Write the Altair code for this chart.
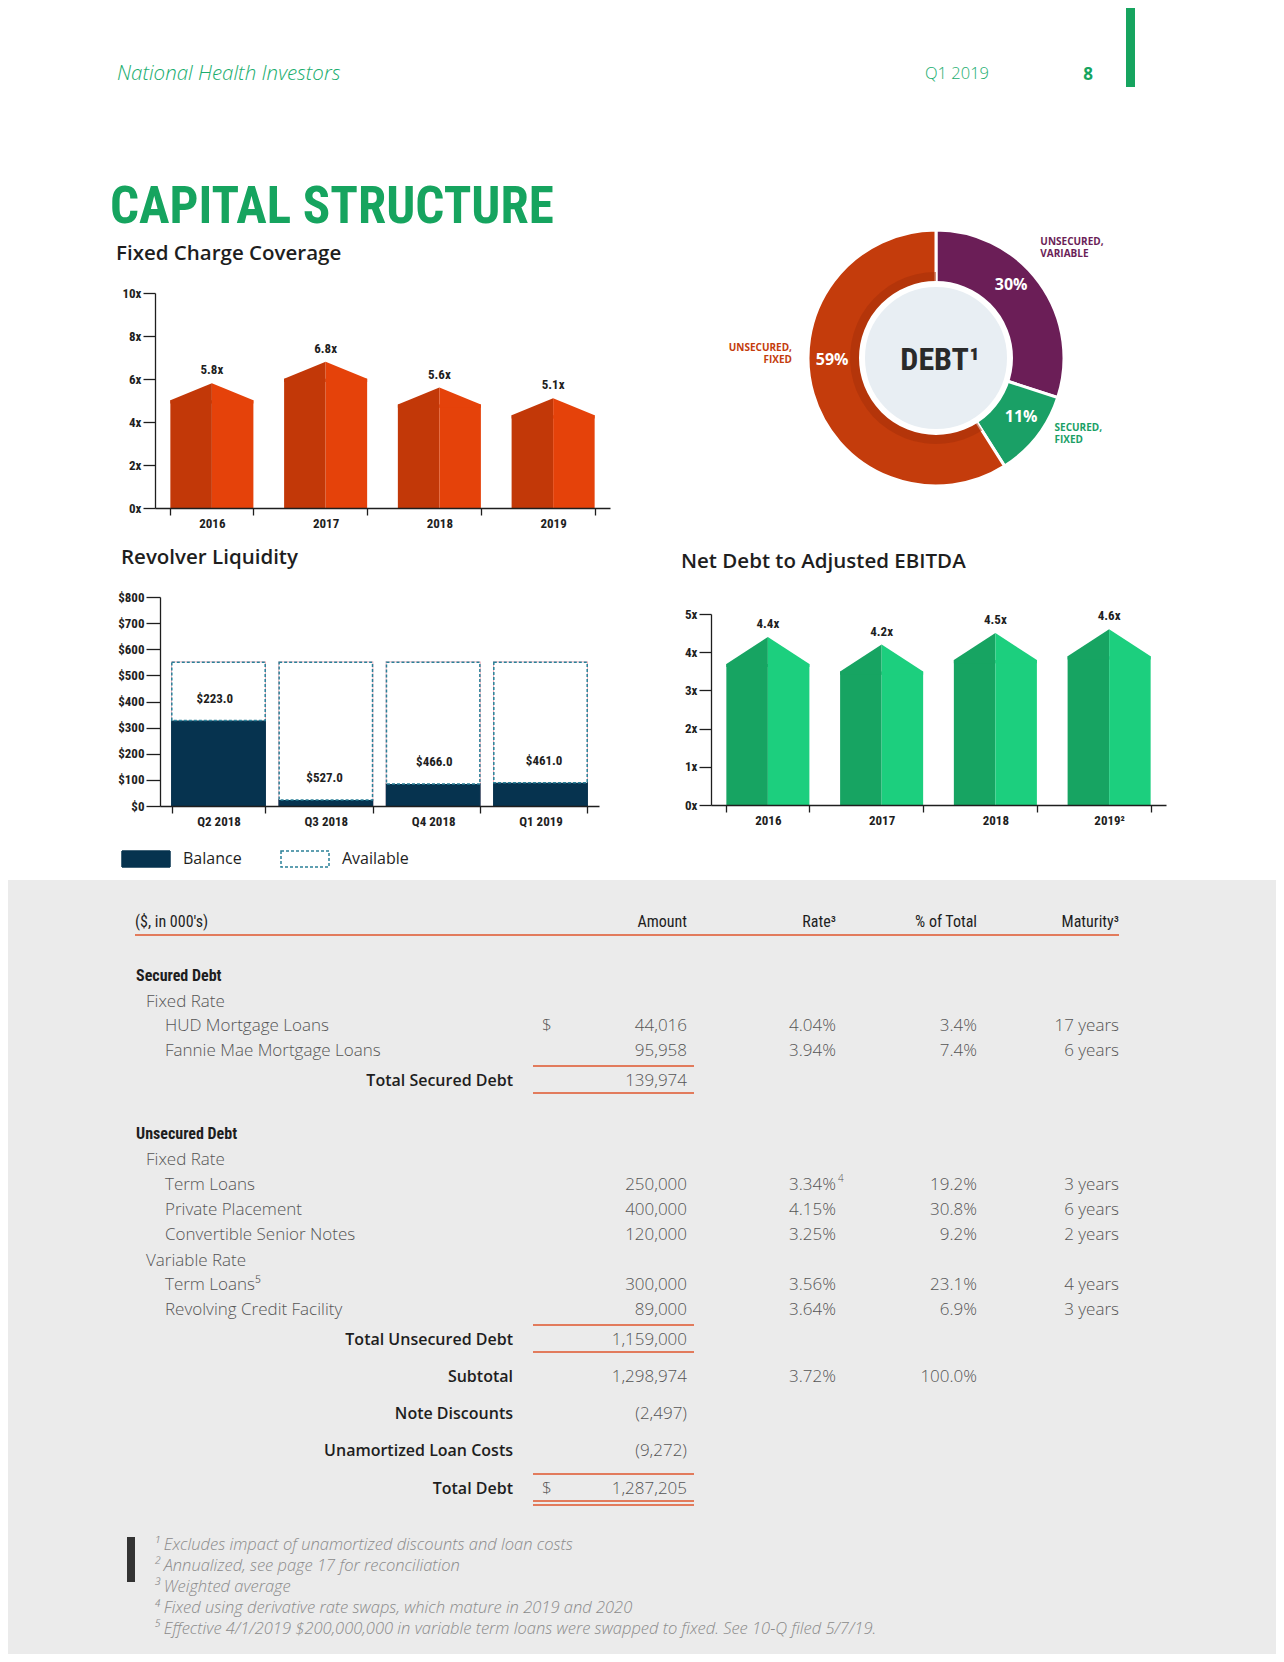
import altair as alt
import pandas as pd

# ---------------- values read from the page ----------------
fcc_years = ["2016", "2017", "2018", "2019"]
fcc_values = [5.8, 6.8, 5.6, 5.1]

nd_years = ["2016", "2017", "2018", "2019²"]
nd_values = [4.4, 4.2, 4.5, 4.6]

rev_quarters = ["Q2 2018", "Q3 2018", "Q4 2018", "Q1 2019"]
rev_balance = [327.0, 23.0, 84.0, 89.0]
rev_available = [223.0, 527.0, 466.0, 461.0]

debt_names = ["UNSECURED,\nVARIABLE", "SECURED,\nFIXED", "UNSECURED,\nFIXED"]
debt_pct = [30, 11, 59]

tbl_labels = ["($, in 000's)", "Secured Debt", "Fixed Rate", "HUD Mortgage Loans",
              "Fannie Mae Mortgage Loans", "Total Secured Debt", "Unsecured Debt",
              "Fixed Rate", "Term Loans", "Private Placement", "Convertible Senior Notes",
              "Variable Rate", "Term Loans⁵", "Revolving Credit Facility",
              "Total Unsecured Debt", "Subtotal", "Note Discounts",
              "Unamortized Loan Costs", "Total Debt"]
tbl_kinds = ["header", "section", "group", "item", "item", "total", "section", "group",
             "item", "item", "item", "group", "item", "item", "total", "summary",
             "summary", "summary", "grand"]
tbl_dollar = ["", "", "", "$", "", "", "", "", "", "", "", "", "", "", "", "", "", "", "$"]
tbl_amount = ["Amount", "", "", "44,016", "95,958", "139,974", "", "", "250,000",
              "400,000", "120,000", "", "300,000", "89,000", "1,159,000", "1,298,974",
              "(2,497)", "(9,272)", "1,287,205"]
tbl_rate = ["Rate³", "", "", "4.04%", "3.94%", "", "", "", "3.34%", "4.15%", "3.25%",
            "", "3.56%", "3.64%", "", "3.72%", "", "", ""]
tbl_rate_note = ["", "", "", "", "", "", "", "", "4", "", "", "", "", "", "", "", "", "", ""]
tbl_pct = ["% of Total", "", "", "3.4%", "7.4%", "", "", "", "19.2%", "30.8%", "9.2%",
           "", "23.1%", "6.9%", "", "100.0%", "", "", ""]
tbl_maturity = ["Maturity³", "", "", "17 years", "6 years", "", "", "", "3 years",
                "6 years", "2 years", "", "4 years", "3 years", "", "", "", "", ""]

footnotes = ["¹ Excludes impact of unamortized discounts and loan costs",
             "² Annualized, see page 17 for reconciliation",
             "³ Weighted average",
             "⁴ Fixed using derivative rate swaps, which mature in 2019 and 2020",
             "⁵ Effective 4/1/2019 $200,000,000 in variable term loans were swapped to fixed. See 10-Q filed 5/7/19."]

# ---------------- styles / layout ----------------
W = 1268
H_TOP = 872
H_BOT = 774

COND = ("Roboto Condensed, Open Sans Condensed, Noto Sans Condensed, Liberation Sans Narrow, "
        "DejaVu Sans Condensed, Arial Narrow, sans-serif")
SANS = "Open Sans, Lato, sans-serif"
GREEN_TXT = "#19AD6E"
GREEN_HEAD = "#16A45F"
INK = "#1E1E1E"
BODY = "#555555"
NAVY = "#06334F"
TEAL = "#2A8098"
PINK = "#E8A0AE"
ORANGE_D = "#C23808"
ORANGE_B = "#E5420A"
GREEN_D = "#17A462"
GREEN_B = "#1CCF7E"
SEG_COLORS = ["#6B1E57", "#1AA066", "#C43C0C"]
LINE = "#E27B5C"


def y_axis(vals, expr, left_px, tick):
    return alt.Axis(values=vals, labelExpr=expr, orient="left", offset=-left_px,
                    tickSize=tick, labelPadding=2, labelFont=COND, labelFontWeight="bold",
                    labelFontSize=13, labelColor=INK, domainColor=INK, tickColor=INK,
                    domainWidth=1.3, tickWidth=1.3, grid=False, title=None, zindex=1)


def x_axis(bottom_px):
    return alt.Axis(orient="bottom", offset=bottom_px - H_TOP, tickBand="extent",
                    tickSize=7, labelPadding=2, labelAngle=0, labelFont=COND,
                    labelFontWeight="bold", labelFontSize=13, labelColor=INK,
                    domainColor=INK, tickColor=INK, domainWidth=1.3, tickWidth=1.3,
                    grid=False, title=None, zindex=1)


def note(text, x, y, **kw):
    return alt.Chart(pd.DataFrame({"t": [text]})).mark_text(**kw).encode(
        x=alt.value(x), y=alt.value(y), text="t:N")


def house_layers(cats, vals, xr, yr, ymax, ticks, roof, dark, bright):
    pin, pout = 0.27, 0.135
    step = (xr[1] - xr[0]) / (len(cats) - pin + 2 * pout)
    half = step * (1 - pin) / 2
    px_per_unit = (yr[0] - yr[1]) / ymax
    df = pd.DataFrame({"cat": cats, "val": vals,
                       "lab": [f"{v:.1f}x" for v in vals]})
    # the roof takes `roof` pixels off the top of each column
    df["shoulder"] = df["val"] - roof / px_per_unit
    xsc = alt.Scale(domain=cats, range=xr, paddingInner=pin, paddingOuter=pout)
    ysc = alt.Scale(domain=[0, ymax], range=yr, nice=False, zero=True)
    X = alt.X("cat:N", scale=xsc, axis=None)
    YS_ = alt.Y("shoulder:Q", scale=ysc, axis=None)
    base = alt.Chart(df)
    size = half * half
    h = roof / (half / 2)
    path_l = f"M-1,0.15L-1,0L1,{-h:.3f}L1,0.15Z"
    path_r = f"M-1,0.15L-1,{-h:.3f}L1,0L1,0.15Z"
    left = base.mark_bar(width=half, xOffset=-half / 2, color=dark).encode(
        x=alt.X("cat:N", scale=xsc, axis=x_axis(yr[0])),
        y=alt.Y("shoulder:Q", scale=ysc,
                axis=y_axis(ticks, "datum.value + 'x'", xr[0], 12)))
    right = base.mark_bar(width=half, xOffset=half / 2, color=bright).encode(x=X, y=YS_)
    roof_l = base.mark_point(shape=path_l, size=size, filled=True, opacity=1, strokeWidth=0,
                             color=dark, xOffset=-half / 2).encode(x=X, y=YS_)
    roof_r = base.mark_point(shape=path_r, size=size, filled=True, opacity=1, strokeWidth=0,
                             color=bright, xOffset=half / 2).encode(x=X, y=YS_)
    labels = base.mark_text(baseline="bottom", dy=-6, font=COND, fontWeight="bold",
                            fontSize=13, color=INK).encode(
        x=X, y=alt.Y("val:Q", scale=ysc, axis=None), text="lab:N")
    return [left, right, roof_l, roof_r, labels]


# ---------------- Fixed charge coverage / Net debt ----------------
fcc = house_layers(fcc_years, fcc_values, [147, 602], [500, 285], 10,
                   [0, 2, 4, 6, 8, 10], 17, ORANGE_D, ORANGE_B)
nd = house_layers(nd_years, nd_values, [703, 1158], [797, 606], 5,
                  [0, 1, 2, 3, 4, 5], 27, GREEN_D, GREEN_B)

# ---------------- Revolver liquidity ----------------
REV_X = [152, 591]
REV_Y = [798, 589]
rev_long = pd.DataFrame({
    "q": rev_quarters * 2,
    "kind": ["Balance"] * 4 + ["Available"] * 4,
    "amt": rev_balance + rev_available,
    "ord": [0] * 4 + [1] * 4,
})
rev_lab = pd.DataFrame({"q": rev_quarters, "bal": rev_balance,
                        "lab": [f"${v:.1f}" for v in rev_available]})
rxs = alt.Scale(domain=rev_quarters, range=REV_X, paddingInner=0.13, paddingOuter=0.11)
rys = alt.Scale(domain=[0, 800], range=REV_Y, nice=False, zero=True)
kinds = ["Balance", "Available"]
leg = alt.Legend(orient="none", legendX=121, legendY=834, direction="horizontal",
                 title=None, symbolType="M-1.5,-0.5H1.5V0.5H-1.5Z", symbolSize=1024,
                 symbolStrokeWidth=1.5, labelFont=SANS, labelFontSize=16,
                 labelColor=INK, labelOffset=20, columnPadding=36)
rev_under = alt.Chart(rev_long).mark_bar(fill="white", stroke=PINK, strokeWidth=1.5).encode(
    x=alt.X("q:N", scale=rxs, axis=None),
    y=alt.Y("amt:Q", stack="zero", scale=rys, axis=None),
    order=alt.Order("ord:Q"))
rev_bars = alt.Chart(rev_long).mark_bar(strokeWidth=1.5).encode(
    x=alt.X("q:N", scale=rxs, axis=x_axis(REV_Y[0])),
    y=alt.Y("amt:Q", stack="zero", scale=rys,
            axis=y_axis(list(range(0, 801, 100)), "'$' + datum.value", REV_X[0], 14)),
    fill=alt.Fill("kind:N", scale=alt.Scale(domain=kinds, range=[NAVY, "white"]), legend=leg),
    stroke=alt.Stroke("kind:N", scale=alt.Scale(domain=kinds, range=[NAVY, TEAL]), legend=leg),
    strokeDash=alt.StrokeDash("kind:N", scale=alt.Scale(domain=kinds, range=[[1, 0], [3, 2]]),
                              legend=leg),
    order=alt.Order("ord:Q"))
rev_text = alt.Chart(rev_lab).mark_text(baseline="middle", dy=-22, font=COND, fontWeight="bold",
                                        fontSize=13, color=INK).encode(
    x=alt.X("q:N", scale=rxs, axis=None),
    y=alt.Y("bal:Q", scale=rys, axis=None),
    text="lab:N")
rev = [rev_under, rev_bars, rev_text]

# ---------------- Debt donut ----------------
CX, CY = 928, 350
ends = pd.Series(debt_pct).cumsum()
donut_df = pd.DataFrame({"seg": debt_names, "pct": debt_pct, "ord": [0, 1, 2],
                         "start": ends - pd.Series(debt_pct), "end": ends,
                         "lab": [f"{p}%" for p in debt_pct]})
donut_df["mid"] = (donut_df["start"] + donut_df["end"]) / 2
TS = alt.Scale(domain=[0, 100], range=[0, 6.283185307179586])
arcs = alt.Chart(donut_df).mark_arc(outerRadius=128, innerRadius=72, x=CX, y=CY,
                                    stroke="white", strokeWidth=3).encode(
    theta=alt.Theta("start:Q", scale=TS), theta2="end:Q",
    color=alt.Color("seg:N", scale=alt.Scale(domain=debt_names, range=SEG_COLORS), legend=None))
shadow = alt.Chart(donut_df).transform_filter(alt.datum.ord == 2).mark_arc(
    outerRadius=86, innerRadius=72, x=CX, y=CY, color="#A8300A", opacity=0.55).encode(
    theta=alt.Theta("start:Q", scale=TS), theta2="end:Q")


def seg_text(i, col, **kw):
    return alt.Chart(donut_df).transform_filter(alt.datum.ord == i).mark_text(
        x=CX, y=CY, baseline="middle", **kw).encode(
        theta=alt.Theta("mid:Q", scale=TS), text=f"{col}:N")


PCT = dict(radius=104, font=SANS, fontWeight="bold", fontSize=16, color="white")
SEGL = dict(radius=150, lineBreak="\n", lineHeight=12, font=SANS, fontWeight="bold", fontSize=10)
disc = alt.Chart(pd.DataFrame({"one": [1]})).mark_arc(
    radius=74, x=CX, y=CY, fill="#E8EEF3", stroke="white", strokeWidth=6).encode(
    theta=alt.Theta("one:Q"))
debt_txt = note("DEBT¹", CX + 4, CY + 2, font=COND, fontWeight="bold", fontSize=32,
                color="#2A2A2A", align="center", baseline="middle")
donut = [arcs, shadow, disc,
         seg_text(0, "lab", align="center", dx=-9, dy=-12, **PCT),
         seg_text(1, "lab", align="center", dx=3, dy=-5, **PCT),
         seg_text(2, "lab", align="center", dx=-4, dy=-27, **PCT),
         seg_text(0, "seg", align="left", dx=-17, dy=-28, color=SEG_COLORS[0], **SEGL),
         seg_text(1, "seg", align="left", dx=0, dy=-22, color=SEG_COLORS[1], **SEGL),
         seg_text(2, "seg", align="right", dx=0, dy=-52, color=SEG_COLORS[2], **SEGL),
         debt_txt]

# ---------------- page furniture (top) ----------------
green_bar = alt.Chart(pd.DataFrame({"a": [0]})).mark_rect(color=GREEN_HEAD).encode(
    x=alt.value(1118), x2=alt.value(1127), y=alt.value(0), y2=alt.value(79))
texts_top = [
    note("National Health Investors", 109, 66, font=SANS, fontStyle="italic", fontWeight=300,
         fontSize=20.5, color=GREEN_TXT, align="left", baseline="middle"),
    note("Q1 2019", 917, 66, font=SANS, fontWeight=300, fontSize=16.5, color=GREEN_TXT,
         align="left", baseline="middle"),
    note("8", 1080, 67, font=SANS, fontWeight="bold", fontSize=17, color=GREEN_HEAD,
         align="center", baseline="middle"),
    note("CAPITAL STRUCTURE", 102, 215, font=COND, fontWeight="bold", fontSize=51,
         color=GREEN_HEAD, align="left", baseline="alphabetic"),
    note("Fixed Charge Coverage", 108, 246, font=SANS, fontWeight=600, fontSize=20.5,
         color=INK, align="left", baseline="middle"),
    note("Revolver Liquidity", 113, 550, font=SANS, fontWeight=600, fontSize=20.5,
         color=INK, align="left", baseline="middle"),
    note("Net Debt to Adjusted EBITDA", 673, 554, font=SANS, fontWeight=600, fontSize=20.5,
         color=INK, align="left", baseline="middle"),
]

top = alt.layer(*fcc, *nd, *rev, *donut, green_bar, *texts_top).resolve_scale(
    x="independent", y="independent", color="independent", fill="independent",
    stroke="independent", strokeDash="independent", theta="independent").resolve_axis(
    x="independent", y="independent").properties(
    width=W, height=H_TOP, view=alt.ViewBackground(fill="white", strokeWidth=0))

# ---------------- debt table (bottom) ----------------
GAP = {"header": 42, "section": 53.5, "group": 26, "item": 24.7, "total": 30,
       "summary": 37, "grand": 38}
row_y = []
acc = 0.0
for k in tbl_kinds:
    acc += GAP[k]
    row_y.append(acc)

tbl = pd.DataFrame({"label": tbl_labels, "kind": tbl_kinds, "dollar": tbl_dollar,
                    "amount": tbl_amount, "rate": tbl_rate, "note": tbl_rate_note,
                    "pct": tbl_pct, "mat": tbl_maturity, "y": row_y})
YS = alt.Scale(domain=[0, H_BOT], range=[0, H_BOT])
BODY_KINDS = ["section", "group", "item", "total", "summary", "grand"]


def cells(col, kinds_sel):
    d = tbl[tbl["kind"].isin(kinds_sel) & (tbl[col] != "")]
    return pd.DataFrame({"text": list(d[col]), "y": list(d["y"])})


def tcol(df, x, align="left", font=SANS, size=17, weight=300, color=BODY, style="normal", dy=0):
    return alt.Chart(df).mark_text(align=align, baseline="middle", font=font, fontSize=size,
                                   fontWeight=weight, fontStyle=style, color=color, dy=dy).encode(
        x=alt.value(x), y=alt.Y("y:Q", scale=YS, axis=None), text=alt.Text("text:N"))


bot_layers = [
    tcol(cells("label", ["header"]), 127, font=COND, size=16, weight="normal", color=INK),
    tcol(cells("amount", ["header"]), 679, "right", COND, 16, "normal", INK),
    tcol(cells("rate", ["header"]), 828, "right", COND, 16, "normal", INK),
    tcol(cells("pct", ["header"]), 969, "right", COND, 16, "normal", INK),
    tcol(cells("mat", ["header"]), 1111, "right", COND, 16, "normal", INK),
    tcol(cells("label", ["section"]), 128, font=COND, size=16, weight="bold", color=INK),
    tcol(cells("label", ["group"]), 138),
    tcol(cells("label", ["item"]), 157),
    tcol(cells("label", ["total", "summary", "grand"]), 505, "right", SANS, 16, 600, INK),
    tcol(cells("dollar", BODY_KINDS), 534),
    tcol(cells("amount", BODY_KINDS), 679, "right"),
    tcol(cells("rate", BODY_KINDS), 828, "right"),
    tcol(cells("note", BODY_KINDS), 830, size=10, dy=-6),
    tcol(cells("pct", BODY_KINDS), 969, "right"),
    tcol(cells("mat", BODY_KINDS), 1111, "right"),
]

head_line = pd.DataFrame({"y": [row_y[0] + 13]})
tot_lines = []
for k, yv in zip(tbl_kinds, row_y):
    if k in ("total", "grand"):
        tot_lines += [yv - 15, yv + 12]
    if k == "grand":
        tot_lines += [yv + 16]
tot_df = pd.DataFrame({"y": tot_lines})
bot_layers.append(alt.Chart(head_line).mark_rule(color=LINE, strokeWidth=2).encode(
    x=alt.value(127), x2=alt.value(1111), y=alt.Y("y:Q", scale=YS, axis=None)))
bot_layers.append(alt.Chart(tot_df).mark_rule(color=LINE, strokeWidth=2).encode(
    x=alt.value(525), x2=alt.value(686), y=alt.Y("y:Q", scale=YS, axis=None)))

fn_df = pd.DataFrame({"text": footnotes, "y": [665 + 21 * i for i in range(len(footnotes))]})
bot_layers.append(tcol(fn_df, 146, size=16.5, color="#8A8A8A", style="italic"))
bot_layers.append(alt.Chart(pd.DataFrame({"a": [0]})).mark_rect(color="#333333").encode(
    x=alt.value(119), x2=alt.value(127), y=alt.value(657), y2=alt.value(702)))

bottom = alt.layer(*bot_layers).properties(
    width=W, height=H_BOT, view=alt.ViewBackground(fill="#EBEBEB", strokeWidth=0))

chart = alt.vconcat(top, bottom, spacing=0).properties(padding=0).configure_view(strokeWidth=0)

chart.save("out.html", embed_options={"renderer": "svg", "actions": False})
